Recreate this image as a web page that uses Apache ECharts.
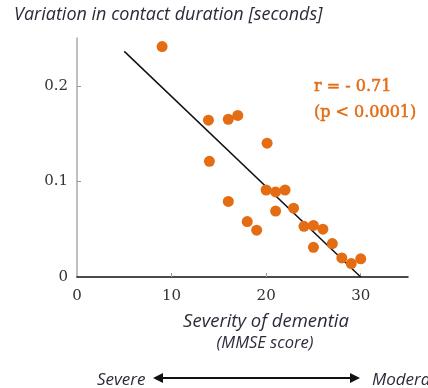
<!DOCTYPE html>
<html>
<head>
<meta charset="utf-8">
<script src="https://cdn.jsdelivr.net/npm/echarts@6/dist/echarts.min.js"></script>
<style>
  html, body { margin: 0; padding: 0; background: #fff; }
  #chart { width: 428px; height: 388px; }
</style>
</head>
<body>
<div id="chart"></div>
<script>
// MMSE score vs variation in contact duration
const mmse = [9, 13.9, 16, 17, 20.1, 14, 20, 21, 22, 16, 21, 22.9, 18, 19, 24, 25, 26, 25, 27, 28, 29, 30]
const variation = [0.241, 0.164, 0.165, 0.169, 0.140, 0.121, 0.091, 0.089, 0.091, 0.079, 0.069, 0.072,
  0.058, 0.049, 0.053, 0.054, 0.050, 0.031, 0.035, 0.020, 0.014, 0.019]
const fitX = [5, 30]
const fitY = [0.236, 0]
const xTicks = [0, 10, 20, 30]
const yTicks = [0, 0.1, 0.2]

const orange = '#e46c12'
const textColor = '#2b2b3a'
const chart = echarts.init(document.getElementById('chart'))

const option = {
  animation: false,
  grid: { left: 77, right: 20, top: 38, bottom: 111 },
  xAxis: {
    type: 'value',
    min: 0,
    max: 35,
    splitLine: { show: false },
    axisLine: { onZero: false, lineStyle: { color: '#111', width: 1.5 } },
    axisTick: { inside: true, length: 4, lineStyle: { color: '#999' }, customValues: xTicks.slice(1) },
    axisLabel: {
      customValues: xTicks,
      color: '#333',
      fontFamily: 'DejaVu Serif',
      fontSize: 15,
      margin: 12
    }
  },
  yAxis: {
    type: 'value',
    min: 0,
    max: 0.25,
    splitLine: { show: false },
    axisLine: { show: true, lineStyle: { color: '#aaa', width: 1.5 } },
    axisTick: { inside: true, length: 4, lineStyle: { color: '#999' }, customValues: yTicks.slice(1) },
    axisLabel: {
      customValues: yTicks,
      color: '#333',
      fontFamily: 'DejaVu Serif',
      fontSize: 15,
      margin: 9,
      formatter: v => String(v)
    }
  },
  series: [
    {
      type: 'line',
      data: fitX.map((x, i) => [x, fitY[i]]),
      symbol: 'none',
      lineStyle: { color: '#111', width: 1.5 },
      z: 1
    },
    {
      type: 'scatter',
      data: mmse.map((x, i) => [x, variation[i]]),
      symbolSize: 11,
      itemStyle: { color: orange, opacity: 1 },
      z: 2
    }
  ],
  graphic: [
    {
      type: 'text', left: 14, top: 6,
      style: { text: 'Variation in contact duration [seconds]', font: 'italic 18px "Open Sans"', fill: textColor }
    },
    {
      type: 'text', x: 314, y: 87,
      style: { text: 'r = - 0.71', font: '16px "DejaVu Serif"', fill: orange, stroke: orange, lineWidth: 0.5, verticalAlign: 'middle' }
    },
    {
      type: 'text', x: 314, y: 113,
      style: { text: '(p < 0.0001)', font: '16px "DejaVu Serif"', fill: orange, stroke: orange, lineWidth: 0.5, verticalAlign: 'middle' }
    },
    {
      type: 'text', x: 266, y: 322,
      style: { text: 'Severity of dementia', font: 'italic 18.5px "Open Sans"', fill: textColor, align: 'center', verticalAlign: 'middle' }
    },
    {
      type: 'text', x: 265, y: 343,
      style: { text: '(MMSE score)', font: 'italic 16.5px "Open Sans"', fill: textColor, align: 'center', verticalAlign: 'middle' }
    },
    {
      type: 'text', x: 97, y: 380,
      style: { text: 'Severe', font: 'italic 17px "Open Sans"', fill: textColor, verticalAlign: 'middle' }
    },
    {
      type: 'text', x: 372, y: 380,
      style: { text: 'Moderate', font: 'italic 17px "Open Sans"', fill: textColor, verticalAlign: 'middle' }
    },
    {
      type: 'line',
      shape: { x1: 160, y1: 378, x2: 352, y2: 378 },
      style: { stroke: '#111', lineWidth: 2 }
    },
    {
      type: 'polygon',
      shape: { points: [[153, 378], [163, 373], [163, 383]] },
      style: { fill: '#111' }
    },
    {
      type: 'polygon',
      shape: { points: [[360, 378], [350, 373], [350, 383]] },
      style: { fill: '#111' }
    }
  ]
}

chart.setOption(option)
</script>
</body>
</html>
